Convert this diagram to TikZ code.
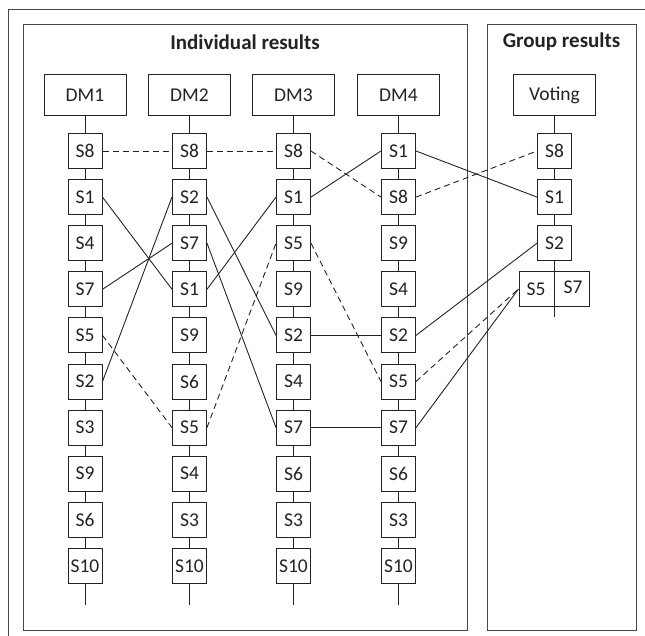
\documentclass[tikz,border=0pt]{standalone}
\usepackage{fontspec}
\setmainfont{Carlito}
\definecolor{lc}{RGB}{35,35,35}
\definecolor{fc}{RGB}{70,70,70}
\begin{document}
\begin{tikzpicture}[x=1pt,y=-1pt,
  every node/.style={text=lc},
  lbl/.style={font=\fontsize{19.5}{22}\selectfont},
  sbox/.style={draw=lc, line width=1pt, fill=white, minimum width=34pt, minimum height=35pt, inner sep=0pt, lbl},
  dmbox/.style={draw=lc, line width=1pt, fill=white, minimum width=82pt, minimum height=41pt, inner sep=0pt, lbl},
  frame/.style={draw=fc, line width=1pt},
  link/.style={draw=lc, line width=0.9pt},
  dlink/.style={link, dash pattern=on 6pt off 4pt},
  title/.style={font=\fontsize{21}{24}\selectfont\bfseries}]
\useasboundingbox (0,0) rectangle (645,636);
% outer frame (cropped)
\draw[frame] (645,10) -- (8,10) -- (8,636);
% group frames
\draw[frame] (23,25) rectangle (467,630);
\draw[frame] (487,25) rectangle (636,630);
\node[title] (t1) at (245,42) {Individual results};
\node[title] (t2) at (561.5,42) {Group results};
% columns
\node[dmbox] (aX) at (85,95) {DM1};
\node[dmbox] (bX) at (189.5,95) {DM2};
\node[dmbox] (cX) at (293.5,95) {DM3};
\node[dmbox] (dX) at (398.5,95) {DM4};
\node[dmbox] (vX) at (554.5,95) {Voting};
\foreach \s [count=\k from 0, remember=\s as \p (initially X)] in {8,1,4,7,5,2,3,9,6,10}{
  \node[sbox] (a\s) at (85,151+46.1*\k) {S\s};
  \draw[link] (a\p) -- (a\s);}
\foreach \s [count=\k from 0, remember=\s as \p (initially X)] in {8,2,7,1,9,6,5,4,3,10}{
  \node[sbox] (b\s) at (189.5,151+46.1*\k) {S\s};
  \draw[link] (b\p) -- (b\s);}
\foreach \s [count=\k from 0, remember=\s as \p (initially X)] in {8,1,5,9,2,4,7,6,3,10}{
  \node[sbox] (c\s) at (293.5,151+46.1*\k) {S\s};
  \draw[link] (c\p) -- (c\s);}
\foreach \s [count=\k from 0, remember=\s as \p (initially X)] in {1,8,9,4,2,5,7,6,3,10}{
  \node[sbox] (d\s) at (398.5,151+46.1*\k) {S\s};
  \draw[link] (d\p) -- (d\s);}
\foreach \s [count=\k from 0, remember=\s as \p (initially X)] in {8,1,2}{
  \node[sbox] (v\s) at (554.5,151+46.1*\k) {S\s};
  \draw[link] (v\p) -- (v\s);}
\node[draw=lc, line width=1pt, fill=white, minimum width=70pt, minimum height=34pt, inner sep=0pt] (v57) at (554,289) {};
\node[lbl] (v57a) at (536,289) {S5};
\node[lbl] (v57b) at (573,287) {S7};
\coordinate (aend) at (85,605);
\coordinate (bend) at (189.5,605);
\coordinate (cend) at (293.5,605);
\coordinate (dend) at (398.5,605);
\coordinate (vend) at (554.5,317);
\draw[link] (a10) -- (aend);
\draw[link] (b10) -- (bend);
\draw[link] (c10) -- (cend);
\draw[link] (d10) -- (dend);
\draw[link] (v2) -- (vend);
% S8
\draw[dlink] (a8.east) -- (b8.west);
\draw[dlink] (b8.east) -- (c8.west);
\draw[dlink] (c8.east) -- (d8.west);
\draw[dlink] (d8.east) -- (v8.west);
% S1
\draw[link] (a1.east) -- (b1.west);
\draw[link] (b1.east) -- (c1.west);
\draw[link] (c1.east) -- (d1.west);
\draw[link] (d1.east) -- (v1.west);
% S7
\draw[link] (a7.east) -- (b7.west);
\draw[link] (b7.east) -- (c7.west);
\draw[link] (c7.east) -- (d7.west);
\draw[link] (d7.east) -- (v57.west);
% S2
\draw[link] (a2.east) -- (b2.west);
\draw[link] (b2.east) -- (c2.west);
\draw[link] (c2.east) -- (d2.west);
\draw[link] (d2.east) -- (v2.west);
% S5
\draw[dlink] (a5.east) -- (b5.west);
\draw[dlink] (b5.east) -- (c5.west);
\draw[dlink] (c5.east) -- (d5.west);
\draw[dlink] (d5.east) -- (v57.west);
\end{tikzpicture}
\end{document}
